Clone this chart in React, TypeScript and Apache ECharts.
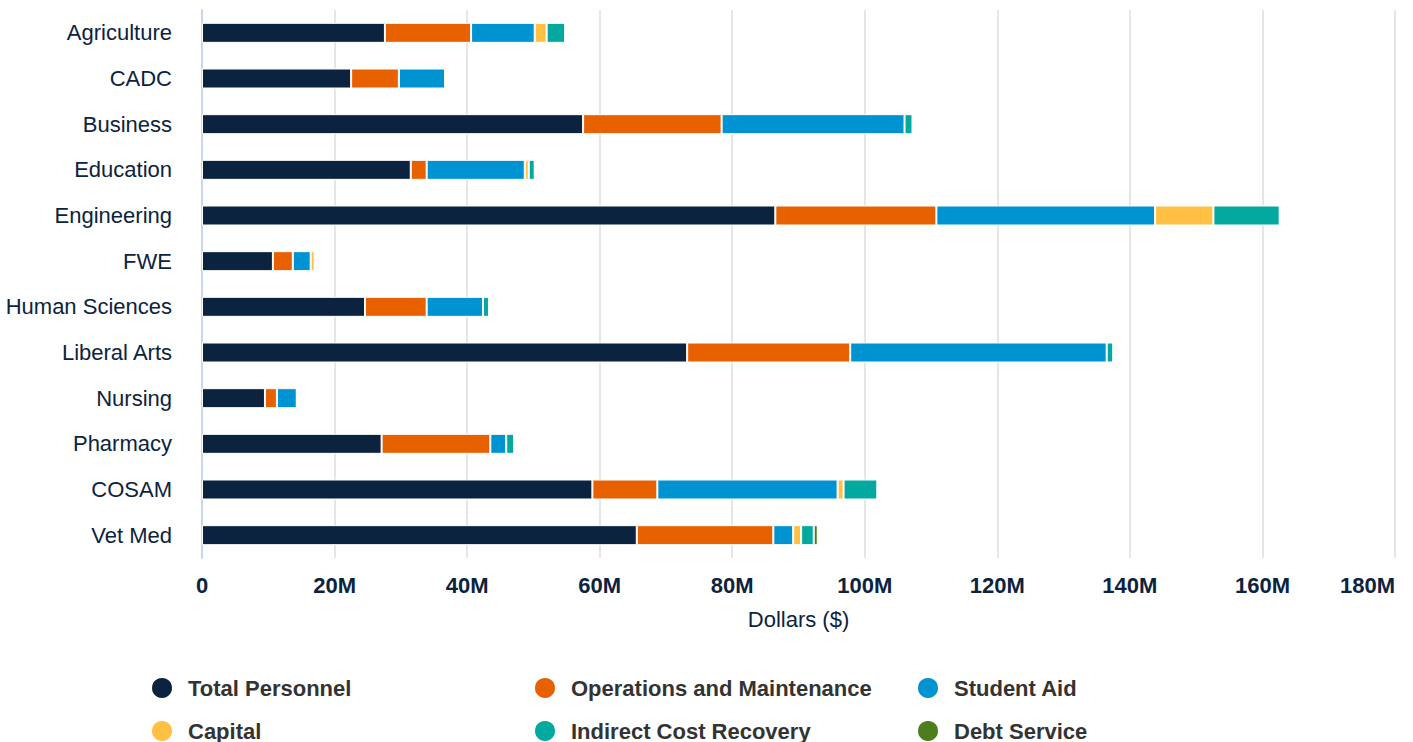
import React, { useEffect, useRef } from "react";
import * as echarts from "echarts";

const categories = [
  "Agriculture", "CADC", "Business", "Education", "Engineering", "FWE",
  "Human Sciences", "Liberal Arts", "Nursing", "Pharmacy", "COSAM", "Vet Med",
];
const seriesNames = [
  "Total Personnel", "Operations and Maintenance", "Student Aid",
  "Capital", "Indirect Cost Recovery", "Debt Service",
];
// values in millions of dollars
const totalPersonnel = [27.6, 22.5, 57.5, 31.5, 86.5, 10.7, 24.6, 73.2, 9.5, 27.1, 58.9, 65.6];
const operations = [13.0, 7.2, 20.9, 2.4, 24.3, 3.0, 9.3, 24.6, 1.8, 16.4, 9.8, 20.6];
const studentAid = [9.6, 7.0, 27.6, 14.8, 33.0, 2.7, 8.5, 38.7, 3.0, 2.4, 27.2, 3.0];
const capital = [1.8, 0, 0, 0.6, 8.8, 0.6, 0, 0, 0, 0, 0.9, 1.2];
const indirectCost = [2.8, 0, 1.2, 0.9, 10.0, 0, 0.9, 1.0, 0, 1.2, 5.1, 1.9];
const debtService = [0, 0, 0, 0, 0, 0, 0, 0, 0, 0, 0, 0.6];
const xTicks = [0, 20, 40, 60, 80, 100, 120, 140, 160, 180];

const colors = ["#0c2340", "#e86100", "#0093d2", "#ffc044", "#03a89e", "#4c7d1e"];
const allValues = [totalPersonnel, operations, studentAid, capital, indirectCost, debtService];

export default function App() {
  const ref = useRef<HTMLDivElement>(null);
  useEffect(() => {
    if (!ref.current) return;
    const chart = echarts.init(ref.current, undefined, { renderer: "svg" });
    const legendPos = [
      [150, 676], [533, 676], [916, 676],
      [150, 719], [533, 719], [916, 719],
    ];
    chart.setOption({
      animation: false,
      textStyle: { fontFamily: "Liberation Sans, Arial, sans-serif" },
      grid: {
        left: 202,
        right: 18,
        top: 10,
        bottom: 184,
        containLabel: false,
        outerBoundsMode: "none",
      },
      legend: seriesNames.map((n, i) => ({
        data: [n],
        left: legendPos[i][0],
        top: legendPos[i][1],
        padding: 0,
        icon: "circle",
        itemWidth: 22,
        itemHeight: 22,
        selectedMode: false,
        textStyle: {
          fontSize: 22,
          fontWeight: "bold",
          color: "#333333",
          padding: [0, 0, 0, 10],
          fontFamily: "Liberation Sans, Arial, sans-serif",
        },
      })),
      xAxis: {
        type: "value",
        min: 0,
        max: xTicks[xTicks.length - 1] * 1e6,
        interval: (xTicks[1] - xTicks[0]) * 1e6,
        name: "Dollars ($)",
        nameLocation: "middle",
        nameGap: 50,
        nameTextStyle: { fontSize: 22, color: "#0c2340" },
        axisLine: { show: false },
        axisTick: { show: false },
        splitLine: { lineStyle: { color: "#e6e6e6", width: 2 } },
        axisLabel: {
          fontSize: 22,
          fontWeight: "bold",
          color: "#0c2340",
          margin: 16,
          alignMaxLabel: "right",
          formatter: (v: number) => (v === 0 ? "0" : v / 1e6 + "M"),
        },
      },
      yAxis: {
        type: "category",
        data: categories,
        inverse: true,
        axisLine: { show: true, lineStyle: { color: "#ccd6eb", width: 2 } },
        axisTick: { show: false },
        axisLabel: { fontSize: 22, color: "#0c2340", margin: 30 },
      },
      series: seriesNames.map((n, i) => ({
        name: n,
        type: "bar",
        stack: "total",
        barWidth: 20,
        itemStyle: { color: colors[i], borderColor: "#ffffff", borderWidth: 1 },
        data: allValues[i].map((v) => v * 1e6),
      })),
    });
    return () => chart.dispose();
  }, []);
  return (
    <div
      ref={ref}
      style={{ position: "absolute", left: 0, top: 0, width: 1413, height: 742 }}
    />
  );
}
